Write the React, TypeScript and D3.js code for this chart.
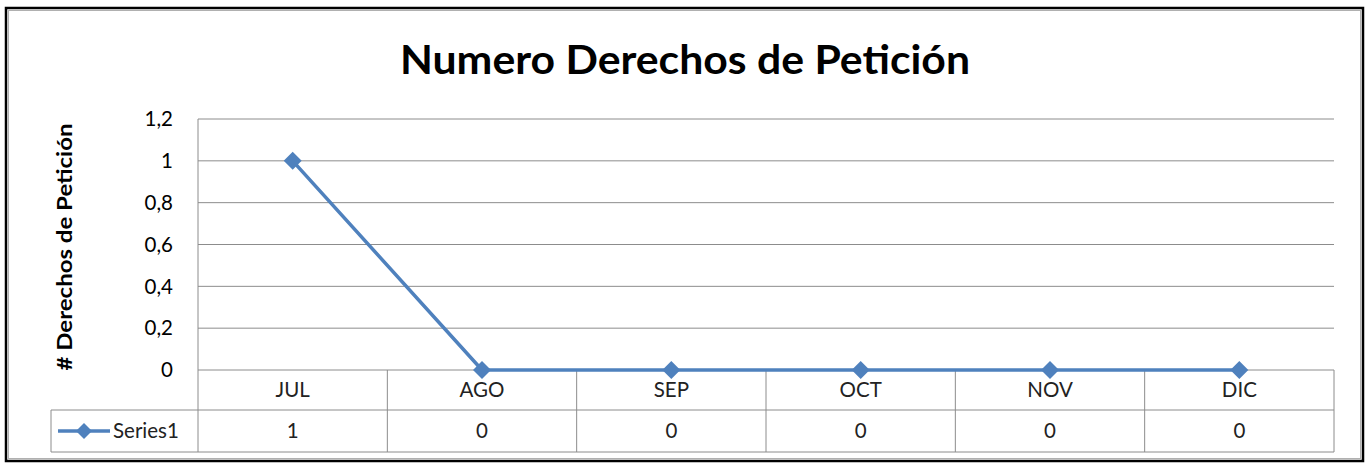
import React from "react";
import * as d3 from "d3";

const categories = ["JUL", "AGO", "SEP", "OCT", "NOV", "DIC"];
const series1 = [1, 0, 0, 0, 0, 0];
const yTicks = [0, 0.2, 0.4, 0.6, 0.8, 1, 1.2];
const seriesName = "Series1";
const title = "Numero Derechos de Petición";
const yTitle = "# Derechos de Petición";

const W = 1371, H = 464;
const left = 198, right = 1334, top = 119, bottom = 370;
const row1 = 410, row2 = 452, legendLeft = 51;
const FONT = "Lato, 'Open Sans', sans-serif";
const BLUE = "#4F81BD";
const GRID = "#8c8c8c";

export default function App() {
  const x = d3.scaleBand<string>().domain(categories).range([left, right]);
  const y = d3.scaleLinear().domain([0, 1.2]).range([bottom, top]);
  const cx = (c: string) => (x(c) as number) + x.bandwidth() / 2;
  const line = d3.line<number>().x((_, i) => cx(categories[i])).y((d) => y(d));
  const fmt = (v: number) => d3.format("~g")(v).replace(".", ",");
  const diamond = (px: number, py: number, r: number) =>
    `M${px},${py - r}L${px + r},${py}L${px},${py + r}L${px - r},${py}Z`;

  return (
    <svg width={W} height={H} style={{ position: "absolute", left: 0, top: 0 }}>
      <rect x={0} y={0} width={W} height={H} fill="#fff" />
      {/* outer frame */}
      <rect x={6} y={8} width={1357} height={453} fill="none" stroke="#000" strokeWidth={2.5} />
      <rect x={8.5} y={10.5} width={1352} height={448} fill="none" stroke="#b0b0b0" strokeWidth={1} />
      {/* title */}
      <text x={685} y={74} textAnchor="middle" fontFamily={FONT} fontWeight="bold" fontSize={41} fill="#000"
        textLength={570} lengthAdjust="spacingAndGlyphs">
        {title}
      </text>
      {/* y axis title */}
      <text
        transform={`translate(72, ${247}) rotate(-90)`}
        textAnchor="middle"
        fontFamily={FONT}
        fontWeight="bold"
        fontSize={20}
        fill="#000"
        textLength={247}
        lengthAdjust="spacingAndGlyphs"
      >
        {yTitle}
      </text>
      {/* horizontal gridlines */}
      {yTicks.map((t) => (
        <line key={t} x1={left} x2={right} y1={y(t)} y2={y(t)} stroke={GRID} strokeWidth={1} />
      ))}
      <line x1={left} x2={left} y1={top} y2={bottom} stroke={GRID} strokeWidth={1} />
      {/* y tick labels */}
      {yTicks.map((t) => (
        <text key={"l" + t} x={173} y={y(t)} dy="0.35em" textAnchor="end" fontFamily={FONT} fontSize={20.5} fill="#000">
          {fmt(t)}
        </text>
      ))}
      {/* data table */}
      <line x1={legendLeft} x2={right} y1={row1} y2={row1} stroke={GRID} />
      <line x1={legendLeft} x2={right} y1={row2} y2={row2} stroke={GRID} />
      <line x1={legendLeft} x2={legendLeft} y1={row1} y2={row2} stroke={GRID} />
      {categories.map((c) => (
        <line key={"v" + c} x1={x(c)} x2={x(c)} y1={bottom} y2={row2} stroke={GRID} />
      ))}
      <line x1={right} x2={right} y1={bottom} y2={row2} stroke={GRID} />
      {categories.map((c) => (
        <text key={"c" + c} x={cx(c)} y={(bottom + row1) / 2} dy="0.35em" textAnchor="middle" fontFamily={FONT} fontSize={20.5} fill="#222">
          {c}
        </text>
      ))}
      {series1.map((v, i) => (
        <text key={"d" + i} x={cx(categories[i])} y={(row1 + row2) / 2} dy="0.35em" textAnchor="middle" fontFamily={FONT} fontSize={20.5} fill="#222">
          {fmt(v)}
        </text>
      ))}
      {/* legend key */}
      <line x1={58} x2={110} y1={(row1 + row2) / 2} y2={(row1 + row2) / 2} stroke={BLUE} strokeWidth={3.5} />
      <path d={diamond(84, (row1 + row2) / 2, 8)} fill={BLUE} />
      <text x={113} y={(row1 + row2) / 2} dy="0.35em" fontFamily={FONT} fontSize={20.5} fill="#222">
        {seriesName}
      </text>
      {/* series line */}
      <path d={line(series1) as string} fill="none" stroke={BLUE} strokeWidth={3.5} strokeLinejoin="round" />
      {series1.map((v, i) => (
        <path key={"m" + i} d={diamond(cx(categories[i]), y(v), 9)} fill={BLUE} />
      ))}
    </svg>
  );
}
